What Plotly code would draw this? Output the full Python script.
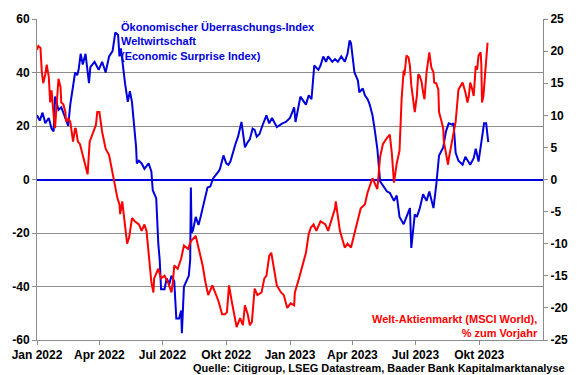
import plotly.graph_objects as go

# Economic Surprise Index (left axis)
esi_dates = ["2022-01-01","2022-01-05","2022-01-09","2022-01-13","2022-01-18","2022-01-22","2022-01-25","2022-01-27",
"2022-02-01","2022-02-05","2022-02-08","2022-02-12","2022-02-15","2022-02-18","2022-02-22","2022-02-25","2022-02-28",
"2022-03-02","2022-03-05","2022-03-08","2022-03-12","2022-03-17","2022-03-19","2022-03-25","2022-03-31",
"2022-04-05","2022-04-10","2022-04-15","2022-04-20","2022-04-24","2022-04-28","2022-04-30",
"2022-05-02","2022-05-04","2022-05-08","2022-05-12","2022-05-15","2022-05-18","2022-05-21","2022-05-24","2022-05-25","2022-05-28",
"2022-06-01","2022-06-05","2022-06-11","2022-06-15","2022-06-17","2022-06-22","2022-06-25","2022-06-27","2022-06-29",
"2022-07-04","2022-07-07","2022-07-11","2022-07-14","2022-07-18","2022-07-21","2022-07-25","2022-07-28","2022-07-29",
"2022-08-01","2022-08-04","2022-08-08","2022-08-10","2022-08-11","2022-08-12","2022-08-14","2022-08-18","2022-08-22","2022-08-25","2022-08-29",
"2022-09-04","2022-09-08","2022-09-12","2022-09-20","2022-09-22","2022-09-27",
"2022-10-01","2022-10-04","2022-10-07","2022-10-14","2022-10-18","2022-10-23","2022-10-28",
"2022-11-01","2022-11-04","2022-11-08","2022-11-11","2022-11-14","2022-11-18","2022-11-22","2022-11-28",
"2022-12-02","2022-12-06","2022-12-13","2022-12-21","2022-12-26",
"2023-01-01","2023-01-07","2023-01-09","2023-01-16","2023-01-24","2023-01-28",
"2023-02-01","2023-02-05","2023-02-11","2023-02-14","2023-02-18","2023-02-22","2023-02-25",
"2023-03-03","2023-03-07","2023-03-11","2023-03-16","2023-03-21","2023-03-25","2023-03-28","2023-03-30",
"2023-04-04","2023-04-09","2023-04-11","2023-04-16","2023-04-19","2023-04-23","2023-04-26","2023-04-30",
"2023-05-03","2023-05-07","2023-05-11","2023-05-17","2023-05-21","2023-05-25","2023-05-31",
"2023-06-04","2023-06-08","2023-06-14","2023-06-18","2023-06-23","2023-06-25","2023-06-30",
"2023-07-03","2023-07-07","2023-07-12","2023-07-17","2023-07-21","2023-07-27","2023-07-31",
"2023-08-04","2023-08-10","2023-08-14","2023-08-18","2023-08-23","2023-08-25","2023-08-28",
"2023-09-01","2023-09-07","2023-09-11","2023-09-16","2023-09-18","2023-09-23","2023-09-26","2023-09-30",
"2023-10-03","2023-10-05","2023-10-08","2023-10-11","2023-10-14"]
esi_values = [24,22,25,21,23,19,18,31,
26,27,25,22,20,28,34,40,39,
41,47,43,47,36,42,44,41,
44,40,46,48,55,54,46,
49,44,36,29,33,29,21.5,12,6,7,
6,4,6,3,-4,-7,-24,-30,-41,
-41,-37,-39,-36,-38,-52,-52,-49,-57.5,
-40,-38,-36,-30,-3,-20,-19,-14,-17,-14,-10,
-3,-2.6,0.4,3,4,9,
6,5.5,6.7,13,16,21.5,12,
14,15,19,18.5,16,17,20,24,
21,23,19.6,21,21.5,
23,27,21.5,31,28,31.5,
30,42.6,41,42.6,46,44,46,
44,45,44,46,44,47,52,51,
40,37,32.6,34,31.5,30,28,24,
19,11.5,-0.7,-3,-4.5,-5,-8,
-6,-14,-16.7,-14,-10.7,-25.6,-13,
-14,-11,-5.5,-8,-4.5,-10.7,-2,
9,12,18,21,20.5,21,10,
7,5.5,8.5,6,5.5,8,11.5,6.7,
12,14,21,21,14]

# MSCI World, % y/y (right axis)
msci_dates = ["2022-01-01","2022-01-03","2022-01-06","2022-01-08","2022-01-10","2022-01-13","2022-01-15","2022-01-18","2022-01-20","2022-01-22","2022-01-25","2022-01-27",
"2022-02-01","2022-02-04","2022-02-05","2022-02-08","2022-02-11","2022-02-12","2022-02-15","2022-02-18","2022-02-22","2022-02-25","2022-02-26",
"2022-03-01","2022-03-04","2022-03-08","2022-03-12","2022-03-15","2022-03-18","2022-03-22","2022-03-27","2022-03-29",
"2022-04-01","2022-04-05","2022-04-10","2022-04-15","2022-04-20","2022-04-22","2022-04-24","2022-04-27","2022-04-30",
"2022-05-01","2022-05-04","2022-05-08","2022-05-11","2022-05-14","2022-05-18","2022-05-22","2022-05-28",
"2022-06-01","2022-06-05","2022-06-08","2022-06-11","2022-06-15","2022-06-18","2022-06-19","2022-06-25","2022-06-29",
"2022-07-04","2022-07-09","2022-07-14","2022-07-16","2022-07-18","2022-07-23","2022-07-28",
"2022-08-01","2022-08-07","2022-08-11","2022-08-18","2022-08-21","2022-08-28",
"2022-09-01","2022-09-05","2022-09-11","2022-09-15","2022-09-20","2022-09-25","2022-09-29",
"2022-10-02","2022-10-05","2022-10-09","2022-10-14","2022-10-16","2022-10-21","2022-10-25","2022-10-28",
"2022-11-01","2022-11-04","2022-11-07","2022-11-11","2022-11-15","2022-11-21","2022-11-25","2022-11-28",
"2022-12-02","2022-12-05","2022-12-09","2022-12-13","2022-12-19","2022-12-23","2022-12-28",
"2023-01-02","2023-01-07","2023-01-08","2023-01-14","2023-01-18","2023-01-24","2023-01-28","2023-01-31",
"2023-02-04","2023-02-08","2023-02-14","2023-02-21","2023-02-25",
"2023-03-03","2023-03-07","2023-03-08","2023-03-14","2023-03-21","2023-03-25","2023-03-30",
"2023-04-04","2023-04-09","2023-04-13","2023-04-19","2023-04-23","2023-04-30",
"2023-05-07","2023-05-11","2023-05-15","2023-05-21","2023-05-25","2023-05-28","2023-05-31",
"2023-06-04","2023-06-08","2023-06-11","2023-06-14","2023-06-15","2023-06-18","2023-06-21","2023-06-23","2023-06-25","2023-06-28","2023-06-30",
"2023-07-03","2023-07-05","2023-07-07","2023-07-10","2023-07-12","2023-07-14","2023-07-17","2023-07-19","2023-07-21","2023-07-24","2023-07-27","2023-07-28","2023-07-31",
"2023-08-03","2023-08-04","2023-08-07","2023-08-10","2023-08-11","2023-08-14","2023-08-17","2023-08-18","2023-08-21","2023-08-25","2023-08-28",
"2023-09-01","2023-09-07","2023-09-11","2023-09-14","2023-09-16","2023-09-18","2023-09-21","2023-09-23","2023-09-26","2023-09-28","2023-09-30",
"2023-10-03","2023-10-04","2023-10-05","2023-10-07","2023-10-10","2023-10-13"]
msci_values = [20.2,20.8,20.5,16.7,15,16.4,17.9,16,12,13.9,10,8,
15.7,14.4,12,11.7,10.5,9,9.5,9,5.9,8,7.9,
5.9,5.5,3.8,1.7,0.8,5.9,7,8.5,10.5,
10.5,7.4,4.8,3.8,1.2,-0.3,-1.4,-2.9,-3.9,
-5.4,-3.4,-7,-10,-9,-6,-6.5,-7,
-8,-7,-8,-11.5,-16,-17.6,-15.4,-13.9,-15.4,
-15,-16,-17.6,-16,-13.4,-13.9,-12.3,
-10.3,-10.8,-9.6,-8.8,-10.3,-13.4,
-16,-18,-16.5,-17.6,-19,-21,-21,
-20.7,-16.5,-19,-21.6,-23,-21.6,-22.7,-19.6,
-21,-22.7,-22.2,-17,-18,-17.6,-15.4,-15,
-11.9,-11.4,-13.9,-16.5,-17.6,-18,-20,
-19.3,-19.6,-17.6,-15.4,-13.9,-11.4,-8.5,-7.5,
-7,-8,-6.5,-7,-8,
-6,-4.5,-3.4,-8,-10.6,-10,-10.6,
-8.5,-6,-4.5,-3.9,-2,0.2,
-1.5,3.5,5.5,6.5,7,4,-0.5,
2.5,4.5,12.5,17,16.2,19.3,19,17.7,14.7,12,10.5,
13,16.4,16.2,15.1,13.6,12.5,16.7,18.7,19.8,17.4,16.7,15.1,15,
14,10.5,9.3,8,5.9,4.3,2.3,3.2,4.8,6.9,9,
14,15.1,13.6,12,13,15.1,14,13,17.7,17.1,19.3,
19.8,18,12,13,17.7,21.3]

tick_dates = ["2022-01-01","2022-04-01","2022-07-01","2022-10-01","2023-01-01","2023-04-01","2023-07-01","2023-10-01"]
tick_labels = ["Jan 2022","Apr 2022","Jul 2022","Okt 2022","Jan 2023","Apr 2023","Jul 2023","Okt 2023"]

BLUE = "#0000DD"
RED = "#FF0000"
GRID = "#8c8c8c"
FONT = "Liberation Sans, Arial, sans-serif"

fig = go.Figure()
fig.add_trace(go.Scatter(x=esi_dates, y=esi_values, mode="lines",
                         line=dict(color=BLUE, width=2), yaxis="y", showlegend=False))
fig.add_trace(go.Scatter(x=msci_dates, y=msci_values, mode="lines",
                         line=dict(color=RED, width=2), yaxis="y2", showlegend=False))

tickfont = dict(family=FONT, size=12, color="black")
fig.update_layout(
    width=580, height=375,
    margin=dict(l=33, r=32, t=16, b=35),
    paper_bgcolor="white", plot_bgcolor="white",
    font=dict(family=FONT, size=12, color="black"),
    xaxis=dict(type="date", range=["2022-01-01", "2024-01-01"],
               tickvals=tick_dates, ticktext=[f"<b>{t}</b>" for t in tick_labels],
               tickfont=tickfont, showgrid=False, showline=True, linecolor=GRID,
               linewidth=1, ticks="outside", ticklen=4, tickcolor=GRID, zeroline=False),
    yaxis=dict(range=[-60, 60], tickvals=[-60, -40, -20, 0, 20, 40, 60],
               ticktext=[f"<b>{v}</b>" for v in [-60, -40, -20, 0, 20, 40, 60]],
               tickfont=tickfont, showgrid=True, gridcolor=GRID, gridwidth=1,
               showline=True, linecolor=GRID, linewidth=1, ticks="outside", ticklen=4,
               tickcolor=GRID, zeroline=True, zerolinecolor=BLUE, zerolinewidth=2),
    yaxis2=dict(range=[-25, 25], overlaying="y", side="right",
                tickvals=list(range(-25, 30, 5)),
                ticktext=[f"<b>{v}</b>" for v in range(-25, 30, 5)],
                tickfont=tickfont, showgrid=False, showline=True, linecolor=GRID,
                linewidth=1, ticks="outside", ticklen=4, tickcolor=GRID, zeroline=False),
)

fig.add_annotation(xref="paper", yref="paper", x=0.163, y=1.0, xanchor="left", yanchor="top",
                   align="left", showarrow=False,
                   text="<b>Ökonomischer Überraschungs-Index<br>Weltwirtschaft<br>(Economic Surprise Index)</b>",
                   font=dict(family=FONT, size=11, color=BLUE))
fig.add_annotation(xref="paper", yref="paper", x=0.995, y=-0.004, xanchor="right", yanchor="bottom",
                   align="right", showarrow=False,
                   text="<b>Welt-Aktienmarkt (MSCI World),<br>% zum Vorjahr</b>",
                   font=dict(family=FONT, size=11, color=RED))
fig.add_annotation(xref="paper", yref="paper", x=0.676, y=-0.088, xanchor="center", yanchor="middle",
                   showarrow=False,
                   text="<b>Quelle: Citigroup, LSEG Datastream, Baader Bank Kapitalmarktanalyse</b>",
                   font=dict(family=FONT, size=11, color="black"))

fig.write_html("out.html", config={"displayModeBar": False},
               post_script="document.body.style.margin='0px';")
